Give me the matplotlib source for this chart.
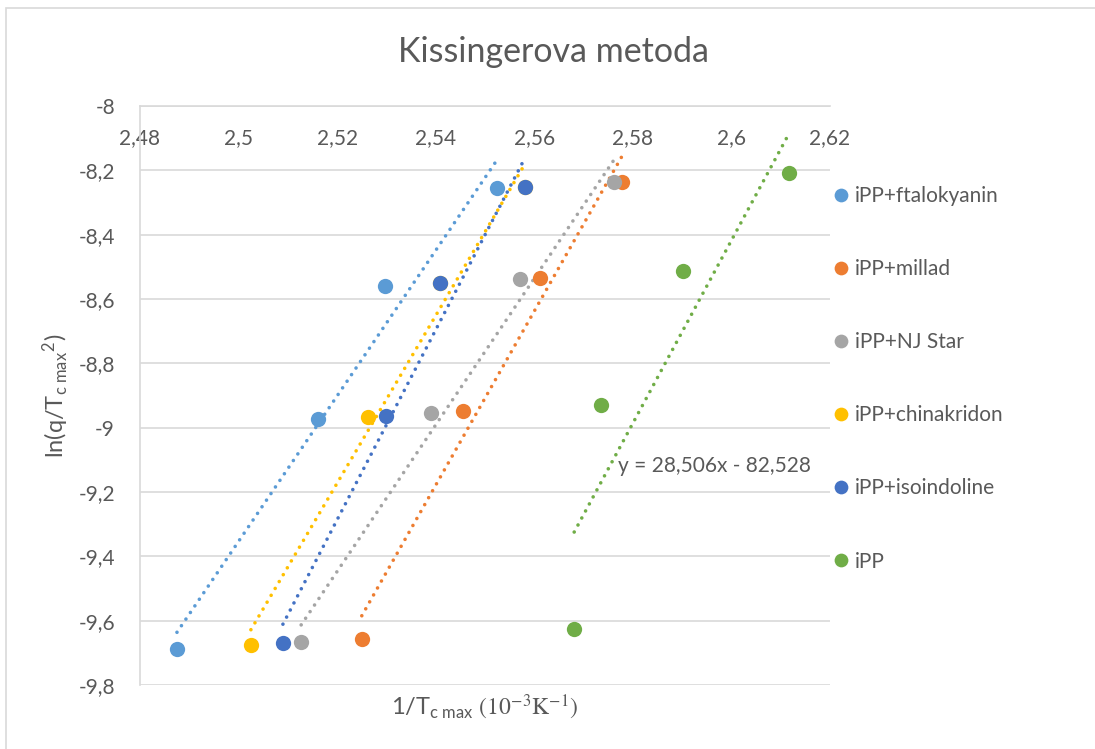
import numpy as np
import matplotlib.pyplot as plt
from matplotlib.patches import Rectangle
from matplotlib.ticker import FuncFormatter

plt.rcParams['font.family'] = ['Lato', 'DejaVu Sans']
plt.rcParams['mathtext.fontset'] = 'stix'

# ── Data ──
labels = ['iPP+ftalokyanin', 'iPP+millad', 'iPP+NJ Star',
          'iPP+chinakridon', 'iPP+isoindoline', 'iPP']
colors = ['#5B9BD5', '#ED7D31', '#A5A5A5', '#FFC000', '#4472C4', '#70AD47']

x_ftal = [2.4875, 2.5161, 2.5297, 2.5524]
y_ftal = [-9.688, -8.973, -8.560, -8.255]
x_mill = [2.5250, 2.5455, 2.5612, 2.5778]
y_mill = [-9.657, -8.948, -8.535, -8.236]
x_njst = [2.5127, 2.5390, 2.5571, 2.5762]
y_njst = [-9.667, -8.955, -8.538, -8.236]
x_chin = [2.5025, 2.5263, 2.5409, 2.5581]
y_chin = [-9.676, -8.967, -8.550, -8.252]
x_isoi = [2.5090, 2.5299, 2.5409, 2.5581]
y_isoi = [-9.670, -8.964, -8.550, -8.252]
x_ipp = [2.5681, 2.5735, 2.5902, 2.6117]
y_ipp = [-9.626, -8.930, -8.513, -8.208]

series_x = [x_ftal, x_mill, x_njst, x_chin, x_isoi, x_ipp]
series_y = [y_ftal, y_mill, y_njst, y_chin, y_isoi, y_ipp]

eq_text = 'y = 28,506x - 82,528'
TXT = '#595959'

fig = plt.figure(figsize=(10.95, 7.49), dpi=100)
ax = fig.add_axes([140 / 1095, 1 - 685 / 749, 690 / 1095, 579 / 749])

# outer chart border
fig.patches.append(Rectangle((6 / 1095, -0.1), 2, 1 - 8 / 749 + 0.1,
                             transform=fig.transFigure, fill=False,
                             edgecolor='#D9D9D9', linewidth=1.2))

# ── trendlines then points ──
for xs, ys, c in zip(series_x, series_y, colors):
    k, q = np.polyfit(xs, ys, 1)
    xx = np.array([min(xs), max(xs)])
    ax.plot(xx, k * xx + q, color=c, linestyle=(0, (0.01, 2.2)),
            linewidth=2.6, dash_capstyle='round', zorder=2)

for xs, ys, c, lab in zip(series_x, series_y, colors, labels):
    ax.plot(xs, ys, 'o', color=c, markersize=11, markeredgewidth=0,
            label=lab, zorder=3)

ax.set_xlim(2.48, 2.62)
ax.set_ylim(-9.8, -8)
ax.set_xticks(np.arange(2.48, 2.6201, 0.02))
ax.set_yticks(np.arange(-9.8, -7.99, 0.2))

def comma(v, pos):
    s = f'{v:.2f}'.rstrip('0').rstrip('.')
    return s.replace('.', ',')

ax.xaxis.set_major_formatter(FuncFormatter(comma))
ax.yaxis.set_major_formatter(FuncFormatter(comma))

ax.xaxis.tick_top()
ax.tick_params(axis='x', length=0, pad=-30, labelsize=15, labelcolor=TXT)
ax.tick_params(axis='y', length=0, pad=18, labelsize=15, labelcolor=TXT)

ax.grid(axis='y', color='#D9D9D9', linewidth=1.2)
ax.set_axisbelow(True)
for s in ['right', 'bottom']:
    ax.spines[s].set_visible(False)
ax.spines['top'].set_color('#D9D9D9')
ax.spines['top'].set_linewidth(1.2)
ax.spines['left'].set_color('#D9D9D9')
ax.spines['left'].set_linewidth(1.2)

ax.text(2.5770, -9.119, eq_text, fontsize=15, color=TXT, va='center', ha='left')

fig.text(553 / 1095, 1 - 52 / 749, 'Kissingerova metoda', fontsize=24.5,
         color=TXT, ha='center', va='center')
ax.set_ylabel(r'ln(q/T$_\mathregular{c\ max}$$^\mathregular{2}$)', fontsize=17,
              color=TXT, labelpad=5)
ax.set_xlabel(r'1/T$_\mathregular{c\ max}$ $(10^{-3}\mathrm{K}^{-1})$',
              fontsize=17, color=TXT, labelpad=6)

leg = ax.legend(loc='center left', bbox_to_anchor=(0.995, 0.529), frameon=False,
                fontsize=15, labelspacing=2.55, handlelength=0.6,
                handletextpad=0.35, borderaxespad=0, markerscale=0.9)
for t in leg.get_texts():
    t.set_color(TXT)

fig.savefig('out.png', dpi=100)
